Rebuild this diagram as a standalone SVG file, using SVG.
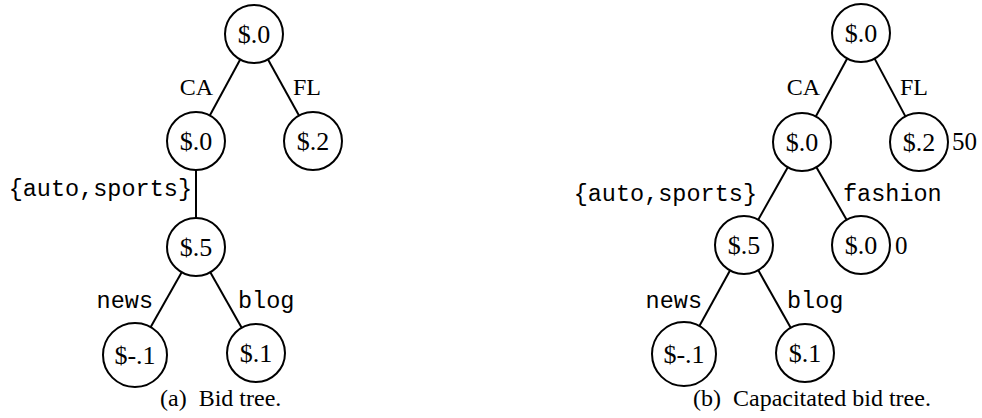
<svg xmlns="http://www.w3.org/2000/svg" width="982" height="418" viewBox="0 0 982 418">
<style>
.n{fill:#fff;stroke:#000;stroke-width:2}
.e{stroke:#000;stroke-width:2;fill:none}
.t{font-family:"Liberation Serif","Times New Roman",serif;font-size:24px;fill:#000}
.v{font-size:26px}
.c{text-anchor:middle}
.m{font-family:"Liberation Mono","Courier New",monospace;font-size:23.5px;fill:#000}
</style>
<rect width="982" height="418" fill="#fff"/>
<g id="connectors">
<line class="e" x1="240.2" y1="59.5" x2="209.8" y2="115.5"/>
<line class="e" x1="268" y1="59.4" x2="299" y2="115.6"/>
<line class="e" x1="196" y1="170" x2="196" y2="218"/>
<line class="e" x1="181.7" y1="272.3" x2="150.7" y2="327"/>
<line class="e" x1="210.3" y1="272.2" x2="241.7" y2="327.8"/>
<line class="e" x1="847.2" y1="58.5" x2="815.8" y2="116.5"/>
<line class="e" x1="874.6" y1="58.6" x2="905.4" y2="116.4"/>
<line class="e" x1="787.8" y1="167.3" x2="758.2" y2="219.7"/>
<line class="e" x1="816.4" y1="167.2" x2="846.6" y2="219.8"/>
<line class="e" x1="730" y1="270.4" x2="699.4" y2="326"/>
<line class="e" x1="758.3" y1="270.3" x2="790.7" y2="327.7"/>
</g>
<g id="edge-labels">
<text class="t" x="213" y="95" text-anchor="end">CA</text>
<text class="t" x="293" y="95">FL</text>
<text class="m" x="192" y="196" text-anchor="end">{auto,sports}</text>
<text class="m" x="153" y="308" text-anchor="end">news</text>
<text class="m" x="238" y="308">blog</text>
<text class="t" x="820" y="95" text-anchor="end">CA</text>
<text class="t" x="900" y="95">FL</text>
<text class="m" x="757" y="201" text-anchor="end">{auto,sports}</text>
<text class="m" x="843" y="201">fashion</text>
<text class="m" x="702" y="308" text-anchor="end">news</text>
<text class="m" x="787" y="308">blog</text>
</g>
<g id="a-root"><circle class="n" cx="254" cy="34" r="29"/><text class="t v c" x="254" y="43">$.0</text></g>
<g id="a-ca"><circle class="n" cx="196" cy="141" r="29"/><text class="t v c" x="196" y="150">$.0</text></g>
<g id="a-fl"><circle class="n" cx="313" cy="141" r="29"/><text class="t v c" x="313" y="150">$.2</text></g>
<g id="a-autosports"><circle class="n" cx="196" cy="247" r="29"/><text class="t v c" x="196" y="256">$.5</text></g>
<g id="a-news"><circle class="n" cx="135" cy="355" r="32"/><text class="t v c" x="135" y="364">$-.1</text></g>
<g id="a-blog"><circle class="n" cx="256" cy="353" r="29"/><text class="t v c" x="256" y="362">$.1</text></g>
<g id="b-root"><circle class="n" cx="861" cy="33" r="29"/><text class="t v c" x="861" y="42">$.0</text></g>
<g id="b-ca"><circle class="n" cx="802" cy="142" r="29"/><text class="t v c" x="802" y="151">$.0</text></g>
<g id="b-fl"><circle class="n" cx="919" cy="142" r="29"/><text class="t v c" x="919" y="151">$.2</text><text class="t" x="952" y="150" style="font-size:25px">50</text></g>
<g id="b-autosports"><circle class="n" cx="744" cy="245" r="29"/><text class="t v c" x="744" y="254">$.5</text></g>
<g id="b-fashion"><circle class="n" cx="861" cy="245" r="29"/><text class="t v c" x="861" y="254">$.0</text><text class="t" x="895" y="254" style="font-size:25px">0</text></g>
<g id="b-news"><circle class="n" cx="684" cy="354" r="32"/><text class="t v c" x="684" y="363">$-.1</text></g>
<g id="b-blog"><circle class="n" cx="805" cy="353" r="29"/><text class="t v c" x="805" y="362">$.1</text></g>
<g id="captions">
<text class="t" x="160" y="406" xml:space="preserve">(a)  Bid tree.</text>
<text class="t" x="693" y="406" xml:space="preserve">(b)  Capacitated bid tree.</text>
</g>
</svg>
